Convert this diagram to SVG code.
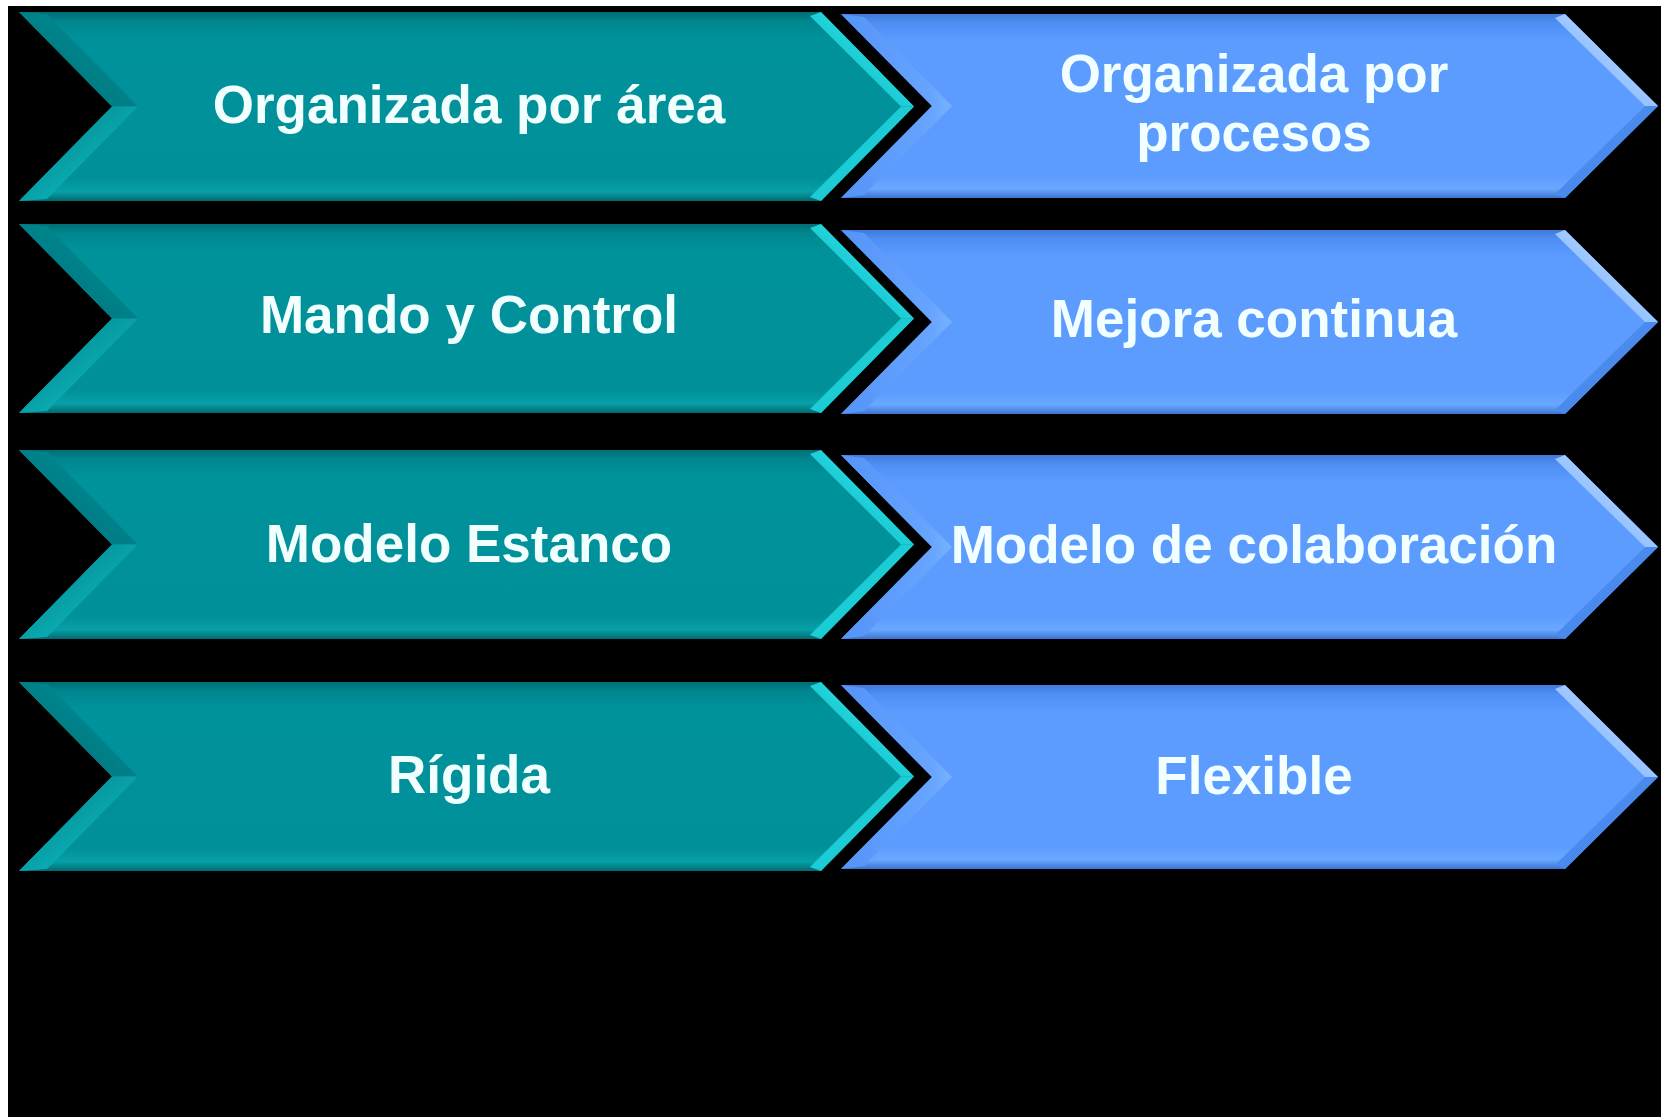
<svg xmlns="http://www.w3.org/2000/svg" xmlns:xlink="http://www.w3.org/1999/xlink" width="1661" height="1117" viewBox="0 0 1661 1117">
  <style>
    .lbl { font-family: "Liberation Sans", Arial, sans-serif; font-weight: bold; font-size: 53px; fill: #f2ffff; text-anchor: middle; }
  </style>
  <defs>
    <linearGradient id="tealBody" x1="0" y1="0" x2="0" y2="1">
      <stop offset="0" stop-color="#006e75"/>
      <stop offset="0.05" stop-color="#00878f"/>
      <stop offset="0.14" stop-color="#00929a"/>
      <stop offset="0.88" stop-color="#00909a"/>
      <stop offset="0.95" stop-color="#07a0a8"/>
      <stop offset="1" stop-color="#006a70"/>
    </linearGradient>
    <linearGradient id="blueBody" x1="0" y1="0" x2="0" y2="1">
      <stop offset="0" stop-color="#3f7ad8"/>
      <stop offset="0.05" stop-color="#4f8ef4"/>
      <stop offset="0.15" stop-color="#5c9cff"/>
      <stop offset="0.88" stop-color="#5c9cff"/>
      <stop offset="0.95" stop-color="#6aa8ff"/>
      <stop offset="1" stop-color="#3a74d2"/>
    </linearGradient>
    <linearGradient id="tealUL" x1="0" y1="1" x2="1" y2="0">
      <stop offset="0" stop-color="#006a72"/>
      <stop offset="0.7" stop-color="#008991"/>
      <stop offset="1" stop-color="#10a6ad"/>
    </linearGradient>
    <linearGradient id="tealLL" x1="0" y1="0" x2="1" y2="1">
      <stop offset="0" stop-color="#007880"/>
      <stop offset="0.6" stop-color="#0aa9b0"/>
      <stop offset="1" stop-color="#2ad6de"/>
    </linearGradient>
    <linearGradient id="tealRU" x1="1" y1="0" x2="0" y2="1">
      <stop offset="0" stop-color="#4fe6ee"/>
      <stop offset="0.5" stop-color="#1fd0d8"/>
      <stop offset="1" stop-color="#0aaab2"/>
    </linearGradient>
    <linearGradient id="tealRL" x1="1" y1="1" x2="0" y2="0">
      <stop offset="0" stop-color="#0fb6be"/>
      <stop offset="0.5" stop-color="#1ccdd5"/>
      <stop offset="1" stop-color="#12b4bc"/>
    </linearGradient>
    <linearGradient id="blueRU" x1="1" y1="0" x2="0" y2="1">
      <stop offset="0" stop-color="#d8eaff"/>
      <stop offset="0.5" stop-color="#9cc6ff"/>
      <stop offset="1" stop-color="#6aa6ff"/>
    </linearGradient>
    <linearGradient id="blueRL" x1="1" y1="1" x2="0" y2="0">
      <stop offset="0" stop-color="#3f7fe0"/>
      <stop offset="1" stop-color="#5595f8"/>
    </linearGradient>
    <linearGradient id="blueL" x1="0" y1="0" x2="1" y2="0">
      <stop offset="0" stop-color="#5494f8"/>
      <stop offset="0.8" stop-color="#66a4ff"/>
      <stop offset="1" stop-color="#78b2ff"/>
    </linearGradient>
    <g id="tealChevron">
      <polygon points="19,0 821,0 914,94.5 821,189 19,189 112,94.5" fill="url(#tealBody)"/>
      <polygon points="19,0 112,94.5 138,94.5 47,2" fill="url(#tealUL)"/>
      <polygon points="112,94.5 19,189 47,187 138,94.5" fill="url(#tealLL)"/>
      <polygon points="821,0 914,94.5 901,94.5 810,4" fill="url(#tealRU)"/>
      <polygon points="914,94.5 821,189 810,185 901,94.5" fill="url(#tealRL)"/>
    </g>
    <g id="blueChevron">
      <polygon points="841,0 1565,0 1658,92 1565,184 841,184 932,92" fill="url(#blueBody)"/>
      <polygon points="841,0 932,92 952,92 864,3" fill="url(#blueL)"/>
      <polygon points="932,92 841,184 864,181 952,92" fill="url(#blueL)"/>
      <polygon points="1565,0 1658,92 1645,92 1555,4" fill="url(#blueRU)"/>
      <polygon points="1658,92 1565,184 1555,180 1645,92" fill="url(#blueRL)"/>
    </g>
  </defs>

  <rect x="0" y="0" width="1661" height="1117" fill="#ffffff"/>
  <rect x="8" y="6" width="1653" height="1111" fill="#000000"/>

  <g id="node-organizada-area">
    <use xlink:href="#tealChevron" href="#tealChevron" transform="translate(0,12)"/>
    <text class="lbl" x="469" y="123">Organizada por área</text>
  </g>
  <g id="node-organizada-procesos">
    <use xlink:href="#blueChevron" href="#blueChevron" transform="translate(0,14)"/>
    <text class="lbl" x="1254" y="92">Organizada por<tspan x="1254" dy="59">procesos</tspan></text>
  </g>

  <g id="node-mando-control">
    <use xlink:href="#tealChevron" href="#tealChevron" transform="translate(0,224)"/>
    <text class="lbl" x="469" y="333">Mando y Control</text>
  </g>
  <g id="node-mejora-continua">
    <use xlink:href="#blueChevron" href="#blueChevron" transform="translate(0,230)"/>
    <text class="lbl" x="1254" y="337">Mejora continua</text>
  </g>

  <g id="node-modelo-estanco">
    <use xlink:href="#tealChevron" href="#tealChevron" transform="translate(0,450)"/>
    <text class="lbl" x="469" y="562">Modelo Estanco</text>
  </g>
  <g id="node-modelo-colaboracion">
    <use xlink:href="#blueChevron" href="#blueChevron" transform="translate(0,455)"/>
    <text class="lbl" x="1254" y="563">Modelo de colaboración</text>
  </g>

  <g id="node-rigida">
    <use xlink:href="#tealChevron" href="#tealChevron" transform="translate(0,682)"/>
    <text class="lbl" x="469" y="793">Rígida</text>
  </g>
  <g id="node-flexible">
    <use xlink:href="#blueChevron" href="#blueChevron" transform="translate(0,685)"/>
    <text class="lbl" x="1254" y="794">Flexible</text>
  </g>

  <g id="connectors"/>
</svg>
